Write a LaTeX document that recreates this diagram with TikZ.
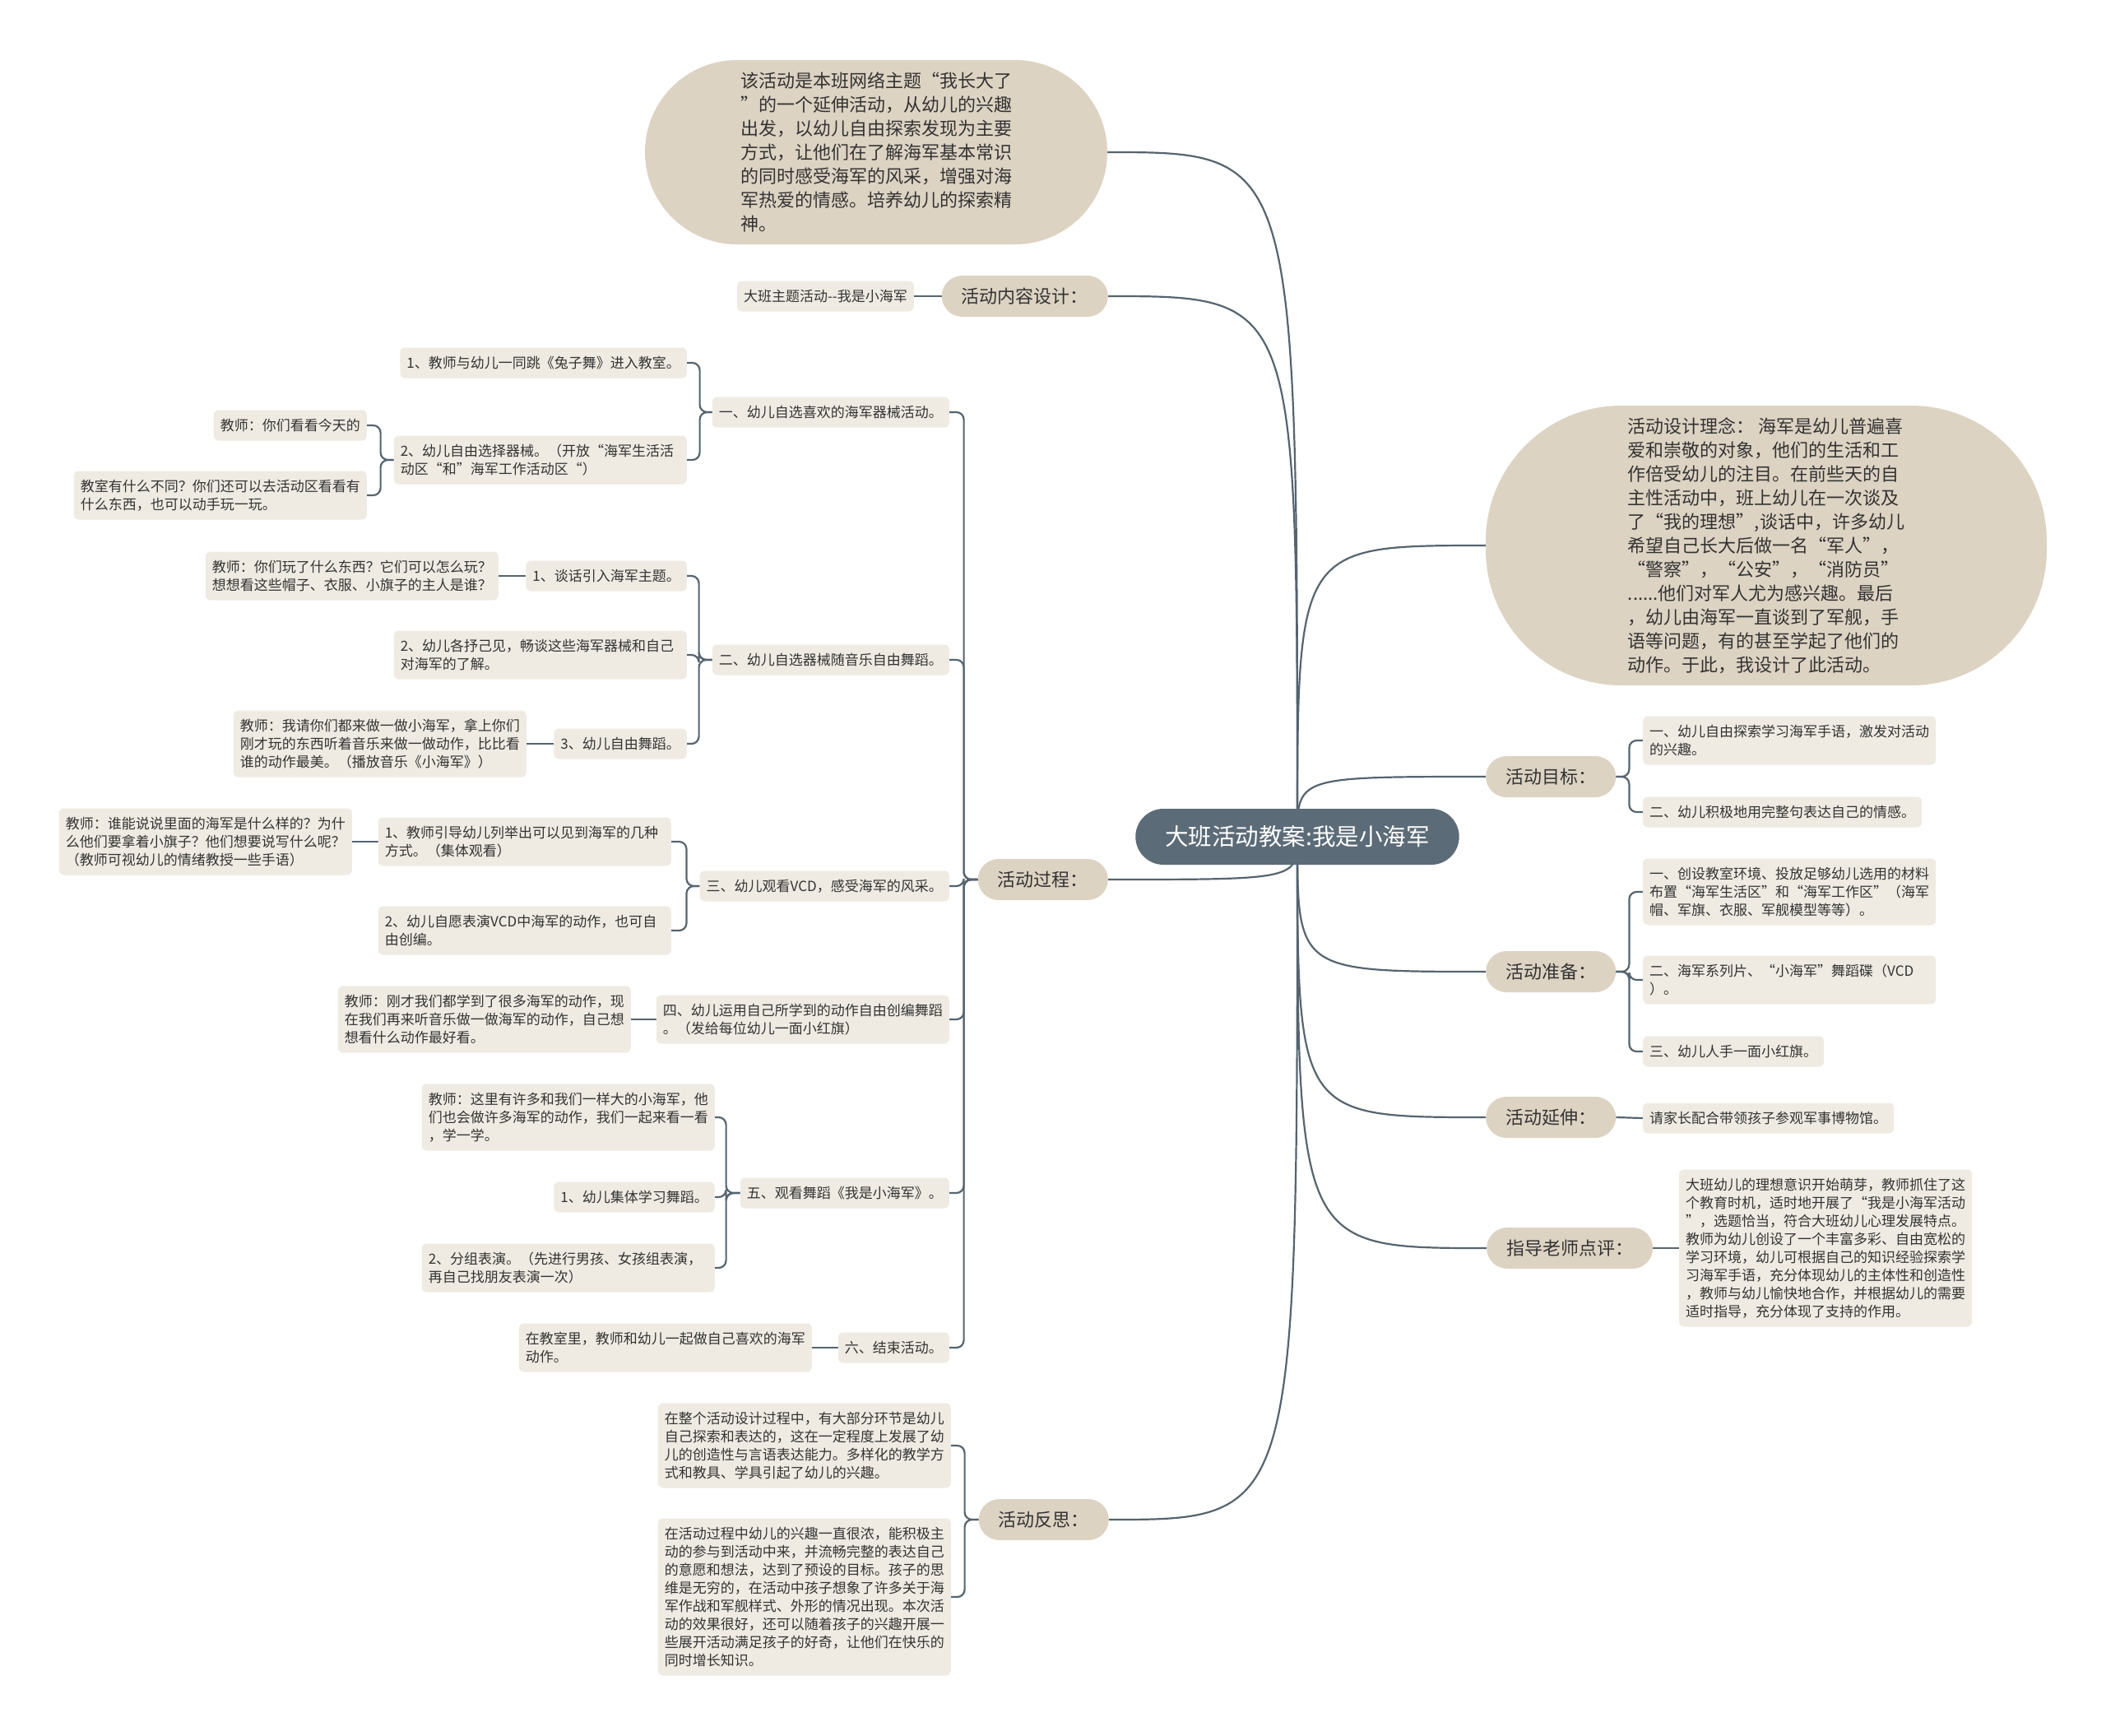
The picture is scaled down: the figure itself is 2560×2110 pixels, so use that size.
\documentclass[tikz,border=0pt]{standalone}
\usepackage{fontspec}
\setmainfont{Noto Sans CJK SC}
\usetikzlibrary{backgrounds}
\definecolor{rootc}{HTML}{5B6B77}
\definecolor{pillc}{HTML}{DDD3C3}
\definecolor{leafc}{HTML}{EFEBE3}
\definecolor{linec}{HTML}{55646F}
\definecolor{txtc}{HTML}{333333}
\newcommand\mmL[3]{\draw[conn] (#1.west) -- ++(-#3,0) |- (#2.east);}
\newcommand\mmR[3]{\draw[conn] (#1.east) -- ++(#3,0) |- (#2.west);}
\newcommand\rtL[1]{\draw[conn] (root.center) .. controls (root.center |- #1.east) .. (#1.east);}
\newcommand\rtR[1]{\draw[conn] (root.center) .. controls (root.center |- #1.west) .. (#1.west);}
\tikzset{
 conn/.style={draw=linec, line width=2.2pt, rounded corners=9pt},
 leaf/.style={fill=leafc, rounded corners=6pt, inner xsep=8pt, inner ysep=2pt, align=left, text=txtc, font=\fontsize{17}{22}\selectfont, minimum height={22*#1+15}},
 leaf/.default=1,
 wrap/.style={text width=340pt},
 pill/.style={fill=pillc, rounded corners=25pt, minimum height=50pt, inner xsep=24pt, inner ysep=0pt, text=txtc, font=\fontsize{22}{26}\selectfont},
 bubble/.style={fill=pillc, align=left, text=txtc, font=\fontsize{22}{29}\selectfont, inner sep=0pt},
 rootbox/.style={fill=rootc, rounded corners=34pt, minimum height=68pt, inner xsep=36pt, inner ysep=0pt, text=white, font=\fontsize{28.5}{32}\selectfont},
}
\begin{document}
\begin{tikzpicture}[x=1pt,y=-1pt]
\useasboundingbox (0,0) rectangle (2560,2110);
% root
\node[rootbox] (root) at (1577,1017) {大班活动教案:我是小海军};
% left level 1
\node[bubble, minimum width=562pt, minimum height=224pt, rounded corners=112pt] (intro) at (1065,185) {该活动是本班网络主题“我长大了\\”的一个延伸活动，从幼儿的兴趣\\出发，以幼儿自由探索发现为主要\\方式，让他们在了解海军基本常识\\的同时感受海军的风采，增强对海\\军热爱的情感。培养幼儿的探索精\\神。};
\node[pill, anchor=east] (content) at (1347,360) {活动内容设计：};
\node[pill, anchor=east] (proc) at (1347,1069) {活动过程：};
\node[pill, anchor=east] (refl) at (1348,1847) {活动反思：};
% right level 1
\node[bubble, minimum width=682pt, minimum height=340pt, rounded corners=165pt] (idea) at (2147,663) {活动设计理念： 海军是幼儿普遍喜\\爱和崇敬的对象，他们的生活和工\\作倍受幼儿的注目。在前些天的自\\主性活动中，班上幼儿在一次谈及\\了“我的理想”,谈话中，许多幼儿\\希望自己长大后做一名“军人”，\\“警察”，“公安”，“消防员”\\......他们对军人尤为感兴趣。最后\\，幼儿由海军一直谈到了军舰，手\\语等问题，有的甚至学起了他们的\\动作。于此，我设计了此活动。};
\node[pill, anchor=west] (goal) at (1806,944) {活动目标：};
\node[pill, anchor=west] (prep) at (1806,1181) {活动准备：};
\node[pill, anchor=west] (ext) at (1806,1358) {活动延伸：};
\node[pill, anchor=west] (comm) at (1807,1517) {指导老师点评：};
% right leaves
\node[leaf=2, wrap, anchor=west] (g1) at (1997,900) {一、幼儿自由探索学习海军手语，激发对活动\\的兴趣。};
\node[leaf, anchor=west] (g2) at (1997,987) {二、幼儿积极地用完整句表达自己的情感。};
\node[leaf=3, wrap, anchor=west] (p1) at (1997,1084) {一、创设教室环境、投放足够幼儿选用的材料\\布置“海军生活区”和“海军工作区”（海军\\帽、军旗、衣服、军舰模型等等）。};
\node[leaf=2, wrap, anchor=west] (p2) at (1997,1191) {二、海军系列片、“小海军”舞蹈碟（VCD\\）。};
\node[leaf, anchor=west] (p3) at (1997,1278) {三、幼儿人手一面小红旗。};
\node[leaf, anchor=west] (e1) at (1997,1359) {请家长配合带领孩子参观军事博物馆。};
\node[leaf=8, wrap, anchor=west] (c1) at (2041,1517) {大班幼儿的理想意识开始萌芽，教师抓住了这\\个教育时机，适时地开展了“我是小海军活动\\”，选题恰当，符合大班幼儿心理发展特点。\\教师为幼儿创设了一个丰富多彩、自由宽松的\\学习环境，幼儿可根据自己的知识经验探索学\\习海军手语，充分体现幼儿的主体性和创造性\\，教师与幼儿愉快地合作，并根据幼儿的需要\\适时指导，充分体现了支持的作用。};
% left leaves
\node[leaf, anchor=east] (s0) at (1111,360) {大班主题活动{-}{-}我是小海军};
\node[leaf, anchor=east] (a1) at (1154,501) {一、幼儿自选喜欢的海军器械活动。};
\node[leaf, anchor=east] (a1c1) at (835,441) {1、教师与幼儿一同跳《兔子舞》进入教室。};
\node[leaf=2, wrap, anchor=east] (a1c2) at (835,559) {2、幼儿自由选择器械。（开放“海军生活活\\动区“和”海军工作活动区“）};
\node[leaf, anchor=east] (a1c2c1) at (446,517) {教师：你们看看今天的};
\node[leaf=2, wrap, anchor=east] (a1c2c2) at (446,602) {教室有什么不同？你们还可以去活动区看看有\\什么东西，也可以动手玩一玩。};
\node[leaf, anchor=east] (a2) at (1154,802) {二、幼儿自选器械随音乐自由舞蹈。};
\node[leaf, anchor=east] (a2c1) at (835,700) {1、谈话引入海军主题。};
\node[leaf=2, anchor=east] (a2c1c) at (606,700) {教师：你们玩了什么东西？它们可以怎么玩？\\想想看这些帽子、衣服、小旗子的主人是谁？};
\node[leaf=2, wrap, anchor=east] (a2c2) at (835,796) {2、幼儿各抒己见，畅谈这些海军器械和自己\\对海军的了解。};
\node[leaf, anchor=east] (a2c3) at (835,904) {3、幼儿自由舞蹈。};
\node[leaf=3, wrap, anchor=east] (a2c3c) at (640,904) {教师：我请你们都来做一做小海军，拿上你们\\刚才玩的东西听着音乐来做一做动作，比比看\\谁的动作最美。（播放音乐《小海军》）};
\node[leaf, anchor=east] (a3) at (1154,1077) {三、幼儿观看VCD，感受海军的风采。};
\node[leaf=2, wrap, anchor=east] (a3c1) at (816,1023) {1、教师引导幼儿列举出可以见到海军的几种\\方式。（集体观看）};
\node[leaf=3, wrap, anchor=east] (a3c1c) at (428,1023) {教师：谁能说说里面的海军是什么样的？为什\\么他们要拿着小旗子？他们想要说写什么呢？\\（教师可视幼儿的情绪教授一些手语）};
\node[leaf=2, wrap, anchor=east] (a3c2) at (816,1131) {2、幼儿自愿表演VCD中海军的动作，也可自\\由创编。};
\node[leaf=2, wrap, anchor=east] (a4) at (1154,1239) {四、幼儿运用自己所学到的动作自由创编舞蹈\\。（发给每位幼儿一面小红旗）};
\node[leaf=3, wrap, anchor=east] (a4c) at (767,1239) {教师：刚才我们都学到了很多海军的动作，现\\在我们再来听音乐做一做海军的动作，自己想\\想看什么动作最好看。};
\node[leaf, anchor=east] (a5) at (1154,1450) {五、观看舞蹈《我是小海军》。};
\node[leaf=3, wrap, anchor=east] (a5c0) at (869,1358) {教师：这里有许多和我们一样大的小海军，他\\们也会做许多海军的动作，我们一起来看一看\\，学一学。};
\node[leaf, anchor=east] (a5c1) at (869,1455) {1、幼儿集体学习舞蹈。};
\node[leaf=2, wrap, anchor=east] (a5c2) at (869,1541) {2、分组表演。（先进行男孩、女孩组表演，\\再自己找朋友表演一次）};
\node[leaf, anchor=east] (a6) at (1154,1638) {六、结束活动。};
\node[leaf=2, wrap, anchor=east] (a6c) at (987,1638) {在教室里，教师和幼儿一起做自己喜欢的海军\\动作。};
\node[leaf=4, wrap, anchor=east] (r1) at (1156,1757) {在整个活动设计过程中，有大部分环节是幼儿\\自己探索和表达的，这在一定程度上发展了幼\\儿的创造性与言语表达能力。多样化的教学方\\式和教具、学具引起了幼儿的兴趣。};
\node[leaf=8, wrap, anchor=east] (r2) at (1156,1941) {在活动过程中幼儿的兴趣一直很浓，能积极主\\动的参与到活动中来，并流畅完整的表达自己\\的意愿和想法，达到了预设的目标。孩子的思\\维是无穷的，在活动中孩子想象了许多关于海\\军作战和军舰样式、外形的情况出现。本次活\\动的效果很好，还可以随着孩子的兴趣开展一\\些展开活动满足孩子的好奇，让他们在快乐的\\同时增长知识。};
\begin{pgfonlayer}{background}
\fill[white] (0,0) rectangle (2560,2110);
% root connectors
\rtL{intro}\rtL{content}\rtL{proc}\rtL{refl}
\rtR{idea}\rtR{goal}\rtR{prep}\rtR{ext}\rtR{comm}
% right side
\mmR{goal}{g1}{16}\mmR{goal}{g2}{16}
\mmR{prep}{p1}{16}\mmR{prep}{p2}{16}\mmR{prep}{p3}{16}
\draw[conn] (ext.east) -- (e1.west);
\draw[conn] (comm.east) -- (c1.west);
% left side
\draw[conn] (content.west) -- (s0.east);
\mmL{proc}{a1}{17}\mmL{proc}{a2}{17}\mmL{proc}{a3}{17}\mmL{proc}{a4}{17}\mmL{proc}{a5}{17}\mmL{proc}{a6}{17}
\mmL{a1}{a1c1}{15}\mmL{a1}{a1c2}{15}
\mmL{a1c2}{a1c2c1}{16}\mmL{a1c2}{a1c2c2}{16}
\mmL{a2}{a2c1}{16}\mmL{a2}{a2c2}{16}\mmL{a2}{a2c3}{16}
\draw[conn] (a2c1.west) -- (a2c1c.east);
\draw[conn] (a2c3.west) -- (a2c3c.east);
\mmL{a3}{a3c1}{16}\mmL{a3}{a3c2}{16}
\draw[conn] (a3c1.west) -- (a3c1c.east);
\draw[conn] (a4.west) -- (a4c.east);
\mmL{a5}{a5c0}{17}\mmL{a5}{a5c1}{17}\mmL{a5}{a5c2}{17}
\draw[conn] (a6.west) -- (a6c.east);
\mmL{refl}{r1}{17}\mmL{refl}{r2}{17}
\end{pgfonlayer}
\end{tikzpicture}
\end{document}
